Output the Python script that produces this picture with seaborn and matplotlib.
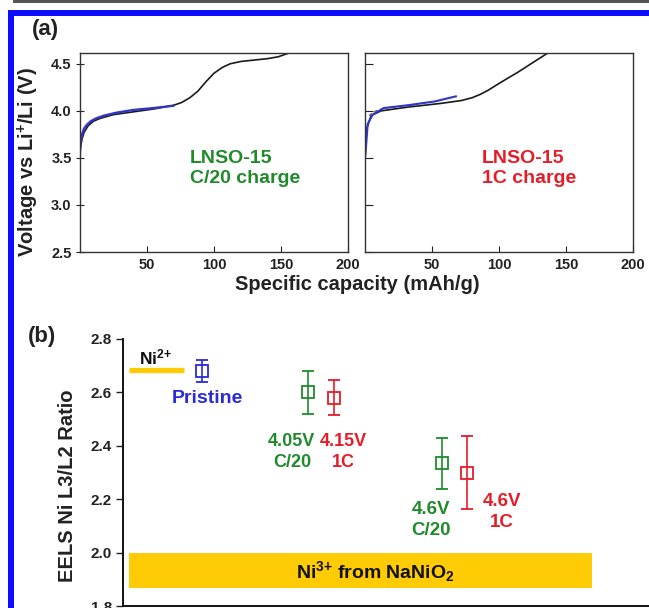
import matplotlib

matplotlib.use("Agg")
import matplotlib.pyplot as plt
import seaborn as sns
from matplotlib.patches import Rectangle

# ---- (a) voltage profiles ----
# C/20 panel: full charge (black) and the partial charge to 4.05 V (blue)
c20_full_cap = [0, 0.5, 1.5, 3, 6, 10, 15, 25, 40, 55, 70, 76, 82, 88, 94, 100,
                106, 112, 120, 130, 140, 148, 153, 157]
c20_full_v = [3.52, 3.62, 3.70, 3.77, 3.84, 3.89, 3.92, 3.96, 3.99, 4.02, 4.06,
              4.09, 4.14, 4.21, 4.31, 4.40, 4.46, 4.50, 4.525, 4.54, 4.555,
              4.575, 4.60, 4.62]
c20_part_cap = [0, 0.5, 1.5, 3, 5, 8, 12, 18, 27, 40, 55, 70]
c20_part_v = [3.60, 3.68, 3.75, 3.81, 3.85, 3.89, 3.92, 3.95, 3.98, 4.01, 4.03, 4.055]

# 1C panel: full charge (black), partial charge to 4.15 V (blue), dashed trace
c1_full_cap = [0, 0.4, 1.5, 4.5, 12, 32, 57, 72, 80, 86, 92, 101, 114, 126, 137]
c1_full_v = [3.45, 3.65, 3.82, 3.95, 4.00, 4.04, 4.08, 4.11, 4.14, 4.175, 4.22,
             4.30, 4.41, 4.52, 4.62]
c1_part_cap = [0, 0.7, 2, 5.7, 14, 32, 52, 68]
c1_part_v = [3.50, 3.61, 3.86, 3.96, 4.03, 4.06, 4.10, 4.155]
c1_dash_cap = [3, 8, 15, 25, 38]
c1_dash_v = [3.95, 4.00, 4.03, 4.045, 4.06]

cap_ticks = [50, 100, 150, 200]
volt_ticks = [2.5, 3.0, 3.5, 4.0, 4.5]

# ---- (b) EELS Ni L3/L2 ratio ----
samples = ["Pristine", "4.05V C/20", "4.15V 1C", "4.6V C/20", "4.6V 1C"]
sample_pos = [1.5, 3.52, 4.01, 6.06, 6.54]
ratio = [2.68, 2.60, 2.58, 2.335, 2.30]
ratio_err = [0.042, 0.082, 0.065, 0.095, 0.137]
sample_colors = ["#2a2ad8", "#218a2c", "#e51d2a", "#218a2c", "#e51d2a"]

ni2_ratio = 2.684
ni2_span = [0.11, 1.16]
ni3_band = [1.866, 2.0]
ni3_span = [0.11, 8.92]
ratio_ticks = [1.8, 2.0, 2.2, 2.4, 2.6, 2.8]

GREEN = "#218a2c"
RED = "#e51d2a"
BLUE = "#2a2ad8"
GOLD = "#ffcb05"
BLACK = "#1a1a1a"
LINE_BLUE = "#3434c8"

sns.set_style("ticks")
plt.rcParams["font.family"] = ["Liberation Sans", "DejaVu Sans"]
plt.rcParams["font.weight"] = "bold"
plt.rcParams["axes.labelweight"] = "bold"
plt.rcParams["mathtext.default"] = "regular"

W, H = 649, 608


def box(left, top, right, bottom):
    # pixel box -> figure fraction
    return [left / W, 1 - bottom / H, (right - left) / W, (bottom - top) / H]


fig = plt.figure(figsize=(W / 100, H / 100), dpi=100)

# page decorations: grey rule and blue frame
fig.add_artist(Rectangle((13 / W, 1 - 2.5 / H), 1, 2.5 / H, color="#555555",
                         transform=fig.transFigure, lw=0))
fig.add_artist(Rectangle((8 / W, 1 - 16 / H), 1, 6 / H, color="#0d0dff",
                         transform=fig.transFigure, lw=0))
fig.add_artist(Rectangle((8 / W, 0), 6 / W, 1 - 10 / H, color="#0d0dff",
                         transform=fig.transFigure, lw=0))

ax1 = fig.add_axes(box(80, 53, 348, 252))
ax2 = fig.add_axes(box(365, 53, 633, 252))
ax3 = fig.add_axes(box(123, 339, 649, 606))

sns.lineplot(x=c20_full_cap, y=c20_full_v, ax=ax1, color=BLACK, lw=1.2,
             sort=False, estimator=None)
sns.lineplot(x=c20_part_cap, y=c20_part_v, ax=ax1, color=LINE_BLUE, lw=1.7,
             sort=False, estimator=None)
sns.lineplot(x=c1_full_cap, y=c1_full_v, ax=ax2, color=BLACK, lw=1.2,
             sort=False, estimator=None)
sns.lineplot(x=c1_dash_cap, y=c1_dash_v, ax=ax2, color="#666666", lw=0.9,
             ls=(0, (3, 2)), sort=False, estimator=None)
sns.lineplot(x=c1_part_cap, y=c1_part_v, ax=ax2, color=LINE_BLUE, lw=1.5,
             sort=False, estimator=None)

for ax in (ax1, ax2):
    ax.set_xlim(0, 200)
    ax.set_ylim(2.5, 4.615)
    ax.set_xticks(cap_ticks)
    ax.set_yticks(volt_ticks)
    ax.set_xlabel("")
    ax.set_ylabel("")
    for sp in ax.spines.values():
        sp.set_color("#333333")
        sp.set_linewidth(1.0)
    ax.tick_params(axis="x", direction="in", length=4, width=0.8, pad=4,
                   labelsize=10.5, colors="#222222")
    ax.tick_params(axis="y", direction="inout", length=6, width=0.8, pad=3,
                   labelsize=10.5, colors="#222222")
ax2.tick_params(axis="y", direction="in", labelleft=False)

ax1.text(82, 3.39, "LNSO-15\nC/20 charge", color=GREEN, fontsize=14,
         ha="left", va="center", linespacing=1.25)
ax2.text(87, 3.39, "LNSO-15\n1C charge", color=RED, fontsize=14,
         ha="left", va="center", linespacing=1.25)

fig.text(28 / W, 1 - 162 / H, "Voltage vs Li$^{+}$/Li (V)", rotation=90,
         ha="center", va="center", fontsize=14.5, color="#222222")
fig.text(357 / W, 1 - 285 / H, "Specific capacity (mAh/g)", ha="center",
         va="center", fontsize=14.5, color="#222222")
fig.text(32 / W, 1 - 30 / H, "(a)", ha="left", va="center", fontsize=16,
         color="#222222")

# ---- panel (b) ----
ax3.fill_between(ni3_span, ni3_band[0], ni3_band[1], color=GOLD, lw=0)
ax3.plot(ni2_span, [ni2_ratio, ni2_ratio], color=GOLD, lw=3.8,
         solid_capstyle="butt")
for x, y, e, c in zip(sample_pos, ratio, ratio_err, sample_colors):
    ax3.errorbar(x, y, yerr=e, fmt="s", mfc="none", mec=c, ecolor=c, ms=8.5,
                 mew=1.3, elinewidth=1.2, capsize=4.6, capthick=1.2)

ax3.set_xlim(0, 10)
ax3.set_ylim(1.8, 2.8)
ax3.set_yticks(ratio_ticks)
ax3.set_xticks([])
sns.despine(ax=ax3, top=True, right=True)
for sp in ("left", "bottom"):
    ax3.spines[sp].set_color("#111111")
    ax3.spines[sp].set_linewidth(1.4)
ax3.tick_params(axis="y", direction="out", length=5, width=1.0, pad=3,
                labelsize=11, colors="#222222")

ax3.text(0.61, 2.732, "Ni$^{2{+}}$", color="#111111", fontsize=12.5,
         ha="center", va="center")
ax3.text(1.6, 2.579, "Pristine", color=BLUE, fontsize=14, ha="center",
         va="center")
ax3.text(3.21, 2.378, "4.05V\nC/20", color=GREEN, fontsize=13, ha="center",
         va="center", linespacing=1.3)
ax3.text(4.19, 2.378, "4.15V\n1C", color=RED, fontsize=13, ha="center",
         va="center", linespacing=1.3)
ax3.text(5.86, 2.121, "4.6V\nC/20", color=GREEN, fontsize=13.5, ha="center",
         va="center", linespacing=1.3)
ax3.text(7.2, 2.151, "4.6V\n1C", color=RED, fontsize=13.5, ha="center",
         va="center", linespacing=1.3)
ax3.text(4.79, 1.928, "Ni$^{3{+}}$ from NaNiO$_{2}$", color="#111111",
         fontsize=14, ha="center", va="center")

fig.text(67.5 / W, 1 - 486 / H, "EELS Ni L3/L2 Ratio", rotation=90,
         ha="center", va="center", fontsize=14.5, color="#222222")
fig.text(28 / W, 1 - 336 / H, "(b)", ha="left", va="center", fontsize=16,
         color="#222222")

fig.savefig("out.png", dpi=100)
